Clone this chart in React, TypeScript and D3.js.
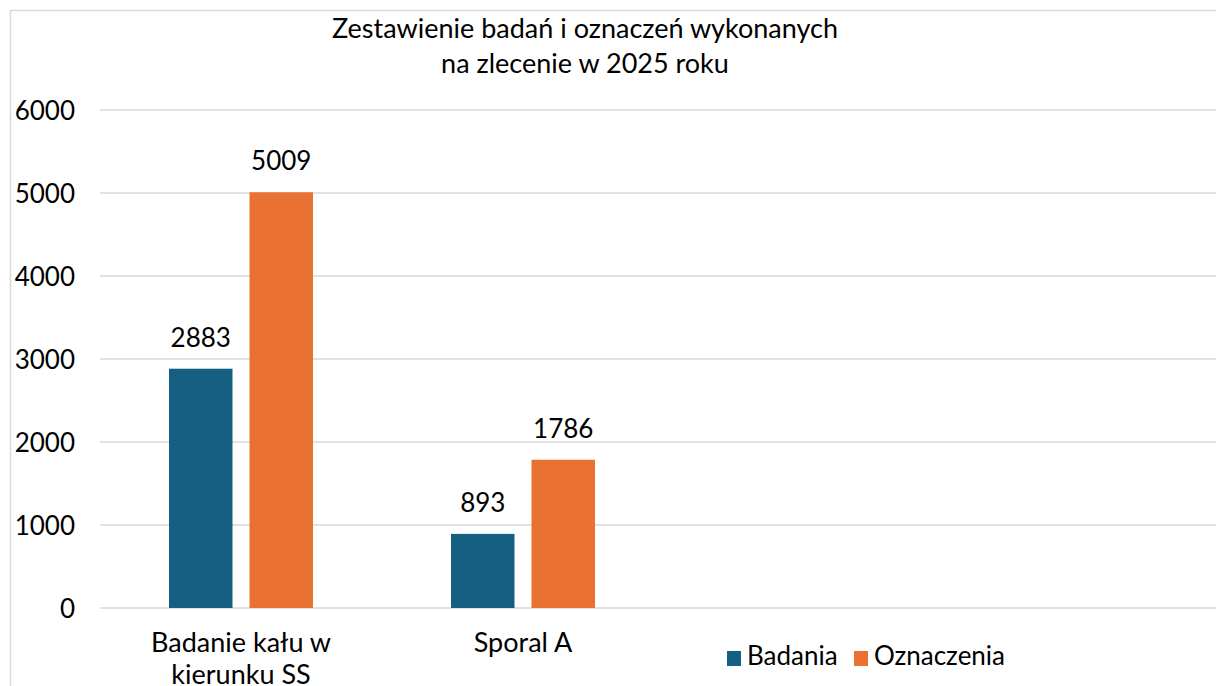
import React from "react";
import * as d3 from "d3";

const categories = ["Badanie kału w\nkierunku SS", "Sporal A", "", " "];
const seriesNames = ["Badania", "Oznaczenia"];
const badania = [2883, 893, null, null];
const oznaczenia = [5009, 1786, null, null];
const yTicks = [0, 1000, 2000, 3000, 4000, 5000, 6000];
const titleLines = ["Zestawienie badań i oznaczeń wykonanych", "na zlecenie w 2025 roku"];
const colors = ["#156082", "#E97132"];

const W = 1216;
const H = 686;
const FONT = "Lato, 'Open Sans', sans-serif";

export default function App() {
  const x = d3.scaleBand<string>().domain(categories).range([100, 1228]).paddingInner(0).paddingOuter(0);
  const y = d3.scaleLinear().domain([0, 6000]).range([608, 110]);
  const barW = 63.5;
  const gap = 17;
  const series = [badania, oznaczenia];

  return (
    <svg width={W} height={H} style={{ position: "absolute", left: 0, top: 0 }} fontFamily={FONT}>
      <rect x={0} y={0} width={W} height={H} fill="#fff" />
      <rect x={10.5} y={10.5} width={W + 20} height={H + 20} fill="none" stroke="#d9d9d9" strokeWidth={1.5} />
      {titleLines.map((t, i) => (
        <text key={i} x={585} y={38 + i * 35} textAnchor="middle" fontSize={27} fill="#000">
          {t}
        </text>
      ))}
      {yTicks.map((t) => (
        <g key={t}>
          <line x1={100} x2={W} y1={y(t)} y2={y(t)} stroke="#d9d9d9" strokeWidth={1.5} />
          <text x={75} y={y(t) + 10} textAnchor="end" fontSize={26} fill="#000">
            {t}
          </text>
        </g>
      ))}
      {categories.map((c, ci) => {
        const cx = (x(c) as number) + x.bandwidth() / 2;
        const groupW = barW * 2 + gap;
        return (
          <g key={ci}>
            {series.map((s, si) => {
              const v = s[ci];
              if (v == null) return null;
              const bx = cx - groupW / 2 + si * (barW + gap);
              return (
                <g key={si}>
                  <rect x={bx} y={y(v)} width={barW} height={y(0) - y(v)} fill={colors[si]} />
                  <text x={bx + barW / 2} y={y(v) - 22} textAnchor="middle" fontSize={26} fill="#000">
                    {v}
                  </text>
                </g>
              );
            })}
            {c.trim() !== "" &&
              c.split("\n").map((line, li) => (
                <text key={li} x={cx} y={652 + li * 32} textAnchor="middle" fontSize={27} fill="#000">
                  {line}
                </text>
              ))}
          </g>
        );
      })}
      {seriesNames.map((n, i) => {
        const lx = [727, 854][i];
        return (
          <g key={n}>
            <rect x={lx} y={651} width={14} height={15} fill={colors[i]} />
            <text x={lx + 20} y={665} fontSize={26} fill="#000">
              {n}
            </text>
          </g>
        );
      })}
    </svg>
  );
}
